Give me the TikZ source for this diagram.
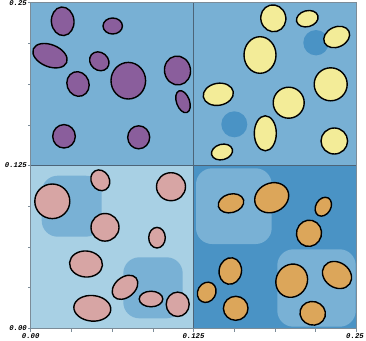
\documentclass[tikz,border=0pt]{standalone}
\usepackage{fontspec}
\newfontfamily\axisfont{Liberation Mono}
\definecolor{bgmid}{HTML}{78B0D4}
\definecolor{bglight}{HTML}{A8D0E4}
\definecolor{bgdark}{HTML}{4A93C5}
\definecolor{patchA}{HTML}{79B1D5}
\definecolor{holeC}{HTML}{4A93C5}
\definecolor{purp}{HTML}{8A5E9C}
\definecolor{yell}{HTML}{F3EC98}
\definecolor{pink}{HTML}{D7A5A4}
\definecolor{oran}{HTML}{DCA65A}
\definecolor{divline}{HTML}{4C6478}
\definecolor{axisgray}{HTML}{7C8C98}
\tikzset{
  grain/.style={draw=black, line width=1.4pt},
  pgrain/.style={grain, fill=purp},
  ygrain/.style={grain, fill=yell},
  kgrain/.style={grain, fill=pink},
  ograin/.style={grain, fill=oran},
  patch/.style={fill=patchA, rounded corners=16pt},
  ticklab/.style={font=\axisfont\bfseries\itshape\fontsize{7.3}{8}\selectfont, inner sep=0pt, text=black},
  tickline/.style={draw=axisgray, line width=0.6pt}
}
\begin{document}
\begin{tikzpicture}[x=1pt,y=-1pt]
\useasboundingbox (0,0) rectangle (366,340);
% quadrant backgrounds
\fill[bgmid] (30.7,2.7) rectangle (193.5,165.5);
\fill[bgmid] (193.5,2.7) rectangle (356.3,165.5);
\fill[bglight] (30.7,165.5) rectangle (193.5,328.3);
\fill[bgdark] (193.5,165.5) rectangle (356.3,328.3);
% patches
\fill[patch] (41.7,175.7) rectangle (101.7,236.7);
\fill[patch] (123.3,257.3) rectangle (182.7,318.3);
\fill[patch] (196,168.3) rectangle (271.7,244);
\fill[patch] (277.3,249.3) rectangle (355.7,326.7);
\fill[holeC] (316,42.7) circle[radius=12.7];
\fill[holeC] (234.3,124.3) circle[radius=13];
% dividing lines and frame
\draw[divline, line width=0.8pt] (193.5,2.7) -- (193.5,328.3);
\draw[divline, line width=0.8pt] (30.7,165.5) -- (356.3,165.5);
\draw[axisgray, line width=0.8pt] (30.7,2.7) rectangle (356.3,328.3);
% purple grains
\draw[pgrain] (62.7,21.3) ellipse[x radius=11.3, y radius=14.3, rotate=5];
\draw[pgrain] (112.7,26) ellipse[x radius=9.7, y radius=8];
\draw[pgrain] (50,55.7) ellipse[x radius=18, y radius=11, rotate=-22];
\draw[pgrain] (99.3,61.3) ellipse[x radius=10.3, y radius=8.8, rotate=-40];
\draw[pgrain] (78,84) ellipse[x radius=11, y radius=12.5, rotate=20];
\draw[pgrain] (128.3,80.7) ellipse[x radius=17.3, y radius=18.3];
\draw[pgrain] (177.5,70.5) ellipse[x radius=13, y radius=14.5, rotate=10];
\draw[pgrain] (183,101.7) ellipse[x radius=6.5, y radius=11.5, rotate=20];
\draw[pgrain] (64,136.3) ellipse[x radius=11.3, y radius=11.7];
\draw[pgrain] (138.7,137.3) ellipse[x radius=11, y radius=11.5];
% yellow grains
\draw[ygrain] (273.3,18.3) ellipse[x radius=12.5, y radius=13.5, rotate=15];
\draw[ygrain] (307.3,18.7) ellipse[x radius=11, y radius=8, rotate=15];
\draw[ygrain] (336.7,37) ellipse[x radius=13.5, y radius=10, rotate=25];
\draw[ygrain] (260,55) ellipse[x radius=16, y radius=18.3];
\draw[ygrain] (330.7,84.3) ellipse[x radius=16.5, y radius=16.5];
\draw[ygrain] (218.3,94.3) ellipse[x radius=15.2, y radius=11, rotate=10];
\draw[ygrain] (288.7,102.7) ellipse[x radius=15.5, y radius=15.5];
\draw[ygrain] (265.3,133.3) ellipse[x radius=11, y radius=17.5];
\draw[ygrain] (334.3,141) ellipse[x radius=13.3, y radius=13];
\draw[ygrain] (222,152) ellipse[x radius=10.7, y radius=7.7, rotate=15];
% pink grains
\draw[kgrain] (100.3,180.3) ellipse[x radius=9, y radius=10.8, rotate=30];
\draw[kgrain] (52.3,201.3) ellipse[x radius=17.5, y radius=17.3];
\draw[kgrain] (171,186.7) ellipse[x radius=14.5, y radius=14];
\draw[kgrain] (105,227.3) ellipse[x radius=14, y radius=13.8];
\draw[kgrain] (157,237.7) ellipse[x radius=8.3, y radius=10.3];
\draw[kgrain] (86,264) ellipse[x radius=16.5, y radius=13, rotate=-5];
\draw[kgrain] (125,287.3) ellipse[x radius=14.5, y radius=10, rotate=40];
\draw[kgrain] (151,299) ellipse[x radius=11.8, y radius=7.8];
\draw[kgrain] (177.7,304.3) ellipse[x radius=11.5, y radius=12.2];
\draw[kgrain] (92.3,308.3) ellipse[x radius=18.5, y radius=12.8, rotate=-5];
% orange grains
\draw[ograin] (231,203.3) ellipse[x radius=13, y radius=9.3, rotate=15];
\draw[ograin] (271.7,197.7) ellipse[x radius=17.5, y radius=14.5, rotate=25];
\draw[ograin] (323.3,206.7) ellipse[x radius=7.5, y radius=10, rotate=-30];
\draw[ograin] (309,233.3) ellipse[x radius=12.5, y radius=13.2, rotate=-15];
\draw[ograin] (230.3,271) ellipse[x radius=11.2, y radius=13.3, rotate=-10];
\draw[ograin] (291.7,280.7) ellipse[x radius=15.5, y radius=17, rotate=-30];
\draw[ograin] (337,275) ellipse[x radius=15.5, y radius=12.5, rotate=-35];
\draw[ograin] (206.7,292.3) ellipse[x radius=9, y radius=10.5, rotate=-30];
\draw[ograin] (235.7,308.3) ellipse[x radius=12.3, y radius=12];
\draw[ograin] (312.7,313.3) ellipse[x radius=12.8, y radius=11.8, rotate=-15];
% ticks
\foreach \k in {0,...,8} {
  \draw[tickline] ({30.7+\k*40.7},328.3) -- ({30.7+\k*40.7},331.5);
  \draw[tickline] (30.7,{2.7+\k*40.7}) -- (27.5,{2.7+\k*40.7});
}
% tick labels
\node[ticklab, anchor=east] (ly0) at (27,328.3) {0.00};
\node[ticklab, anchor=east] (ly1) at (27,165.5) {0.125};
\node[ticklab, anchor=east] (ly2) at (27,3.5) {0.25};
\node[ticklab, anchor=north] (lx0) at (30.7,333.5) {0.00};
\node[ticklab, anchor=north] (lx1) at (193.5,333.5) {0.125};
\node[ticklab, anchor=north] (lx2) at (355,333.5) {0.25};
\end{tikzpicture}
\end{document}
